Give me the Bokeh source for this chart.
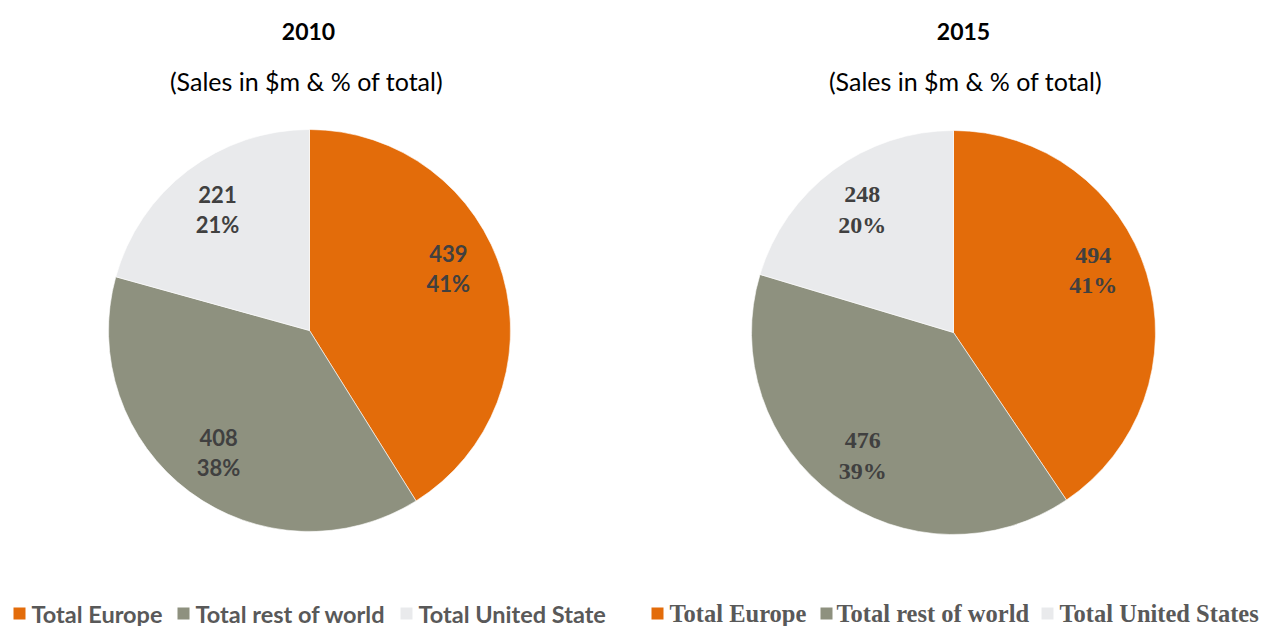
import numpy as np
from bokeh.plotting import figure
from bokeh.layouts import row
from bokeh.models import Range1d, ColumnDataSource
from bokeh.core.properties import value
from bokeh.embed import file_html
from bokeh.resources import INLINE

# ---- data ----
categories = ["Total Europe", "Total rest of world", "Total United States"]
years = ["2010", "2015"]
sales_2010 = [439, 408, 221]
pct_2010 = ["41%", "38%", "21%"]
sales_2015 = [494, 476, 248]
pct_2015 = ["41%", "39%", "20%"]
subtitle = "(Sales in $m & % of total)"
colors = ["#E36C0A", "#8E917F", "#E9EAEC"]

H = 626
TOP = 0


def panel(off_x, width, year, vals, pcts, cx_ref, cy_ref, r, lab_dist, lab_nudge_deg,
          lab_font, lab_size, leg_font, leg_size, leg_sq_x, leg_tx_x, title_x, sub_x):
    p = figure(width=width, height=H, output_backend="svg", toolbar_location=None,
               x_range=Range1d(0, width), y_range=Range1d(0, H), min_border=0)
    p.axis.visible = False
    p.grid.visible = False
    p.outline_line_color = None
    p.background_fill_color = "white"
    p.border_fill_color = "white"

    fx = lambda rx: rx - off_x
    fy = lambda ry: (H + TOP) - ry

    v = np.array(vals, dtype=float)
    frac = v / v.sum()
    cum = np.concatenate([[0], np.cumsum(frac)])
    start = np.pi / 2 - 2 * np.pi * cum[:-1]
    end = np.pi / 2 - 2 * np.pi * cum[1:]
    cx, cy = fx(cx_ref), fy(cy_ref)
    src = ColumnDataSource(dict(start=start, end=end, color=colors,
                                x=[cx] * len(v), y=[cy] * len(v)))
    p.wedge(x="x", y="y", radius=r, start_angle="start", end_angle="end",
            direction="clock", fill_color="color", line_color="white",
            line_width=0.6, source=src)

    mid = (start + end) / 2 + np.radians(lab_nudge_deg)
    lx = cx + lab_dist * np.cos(mid)
    ly = cy + lab_dist * np.sin(mid)
    p.text(x=lx, y=ly + 15, text=[str(int(a)) for a in vals], text_align="center",
           text_baseline="middle", text_font=value(lab_font), text_font_style="bold",
           text_font_size=f"{lab_size}px", text_color="#404040")
    p.text(x=lx, y=ly - 15, text=pcts, text_align="center",
           text_baseline="middle", text_font=value(lab_font), text_font_style="bold",
           text_font_size=f"{lab_size}px", text_color="#404040")

    # titles
    p.text(x=[fx(title_x)], y=[fy(31)], text=[year], text_align="center",
           text_baseline="middle", text_font=value("Lato"), text_font_style="bold",
           text_font_size="23px", text_color="#000000")
    p.text(x=[fx(sub_x)], y=[fy(80)], text=[subtitle], text_align="center",
           text_baseline="middle", text_font=value("Lato"),
           text_font_size="25px", text_color="#000000")

    # legend
    p.scatter(x=[fx(a) for a in leg_sq_x], y=[fy(613)] * 3, marker="square",
              size=12, fill_color=colors, line_color=None)
    p.text(x=[fx(a) for a in leg_tx_x], y=[fy(613)] * 3, text=categories,
           text_align="left", text_baseline="middle", text_font=value(leg_font),
           text_font_style="bold", text_font_size=f"{leg_size}px", text_color="#595959")
    return p


p1 = panel(0, 606, years[0], sales_2010, pct_2010, 309, 330, 201, 152, [8, 0, 0],
           "Lato", 22, "Lato", 23.5, [19, 183, 406], [31, 195, 418], 308, 306)
p2 = panel(606, 656, years[1], sales_2015, pct_2015, 953, 332, 202, 153, [7, 0, 0],
           "Liberation Serif", 24, "Liberation Serif", 24.5, [657, 826, 1047],
           [669, 836, 1059], 963, 965)

layout = row(p1, p2, spacing=0)
open("out.html", "w").write(file_html(layout, INLINE))
